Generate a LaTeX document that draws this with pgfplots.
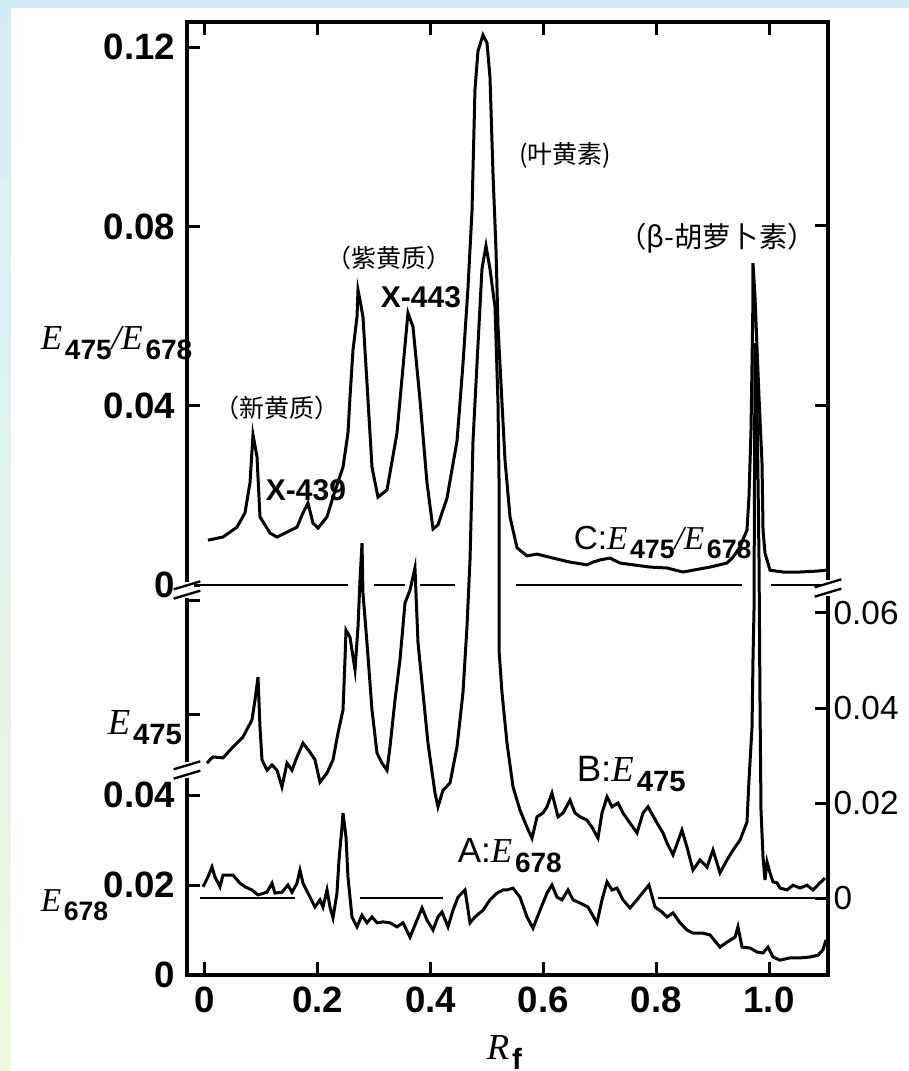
\documentclass[border=0pt]{standalone}
\usepackage{fontspec}
\setmainfont{Liberation Sans}
\newfontfamily\serif{Liberation Serif}
\newfontfamily\cjk{Noto Sans CJK SC}
\usepackage{pgfplots}
\pgfplotsset{compat=1.18}
\definecolor{bgblue}{HTML}{D3EDF8}
\definecolor{bgyellow}{HTML}{EEF8DD}
\makeatletter
% italic serif E with a bold sans subscript
\newcommand\Ee[2]{{\serif\itshape #1}\kern0.08em\raisebox{-0.5ex}{\fontsize{\fpeval{0.8*\f@size}}{1}\selectfont\bfseries #2}}
\makeatother
\newcommand\brk[2]{\begin{scope}[shift={(#1,#2)}]
  \fill[white] (-2pt,-2.4pt) rectangle (2pt,2.4pt);
  \draw[line width=0.7pt] (-4pt,-2.6pt)--(4pt,-0.2pt) (-4pt,0.2pt)--(4pt,2.6pt);
\end{scope}}

\begin{document}
\begin{tikzpicture}
\clip (-56.1pt,-28.8pt) rectangle (216.6pt,292.5pt);
\fill[white] (-56.1pt,-28.8pt) rectangle (216.6pt,292.5pt);
\fill[bgblue] (-56.1pt,290.1pt) rectangle (216.6pt,292.5pt);
\shade[top color=bgblue,bottom color=bgyellow] (-56.1pt,-28.8pt) rectangle (-52.8pt,292.5pt);

\pgfplotsset{base/.style={scale only axis,width=192.3pt,height=285.9pt,
  at={(0,0)},anchor=south west,xmin=-0.0319,xmax=1.1046,
  tick style={black,line width=0.9pt},major tick length=4pt,
  tick align=inside}}

% C: E475/E678
\begin{axis}[base,ymin=-0.0870,ymax=0.1256,
  axis line style={line width=1.1pt},
  xtick={0,0.2,0.4,0.6,0.8,1.0},xticklabels={0,0.2,0.4,0.6,0.8,1.0},xtick pos=both,
  ytick={0,0.04,0.08,0.12},yticklabels={0,0.04,0.08,0.12},ytick pos=left,
  ticklabel style={font=\bfseries\fontsize{11}{11}\selectfont}]
\addplot[black,line width=0.9pt] coordinates {
(0.0053,0.0100)(0.0319,0.0107)(0.0567,0.0129)(0.0709,0.0161)(0.0798,0.0228)
(0.0851,0.0335)(0.0922,0.0286)(0.0975,0.0152)(0.1152,0.0116)(0.1277,0.0107)
(0.1454,0.0118)(0.1631,0.0129)(0.1738,0.0161)(0.1826,0.0183)(0.1915,0.0138)
(0.2004,0.0127)(0.2163,0.0152)(0.2270,0.0196)(0.2447,0.0263)(0.2535,0.0339)
(0.2571,0.0419)(0.2624,0.0524)(0.2695,0.0598)(0.2713,0.0658)(0.2748,0.0636)
(0.2801,0.0598)(0.2872,0.0451)(0.2961,0.0263)(0.3067,0.0196)(0.3227,0.0212)
(0.3404,0.0339)(0.3511,0.0486)(0.3599,0.0607)(0.3688,0.0576)(0.3812,0.0413)
(0.3936,0.0228)(0.4043,0.0125)(0.4131,0.0134)(0.4291,0.0194)(0.4468,0.0321)
(0.4574,0.0493)(0.4663,0.0663)(0.4734,0.0834)(0.4787,0.1106)(0.4840,0.1191)
(0.4929,0.1227)(0.5000,0.1209)(0.5053,0.1133)(0.5106,0.0919)(0.5160,0.0747)
(0.5195,0.0578)(0.5266,0.0406)(0.5319,0.0279)(0.5408,0.0152)(0.5532,0.0083)
(0.5709,0.0065)(0.5887,0.0069)(0.6170,0.0060)(0.6472,0.0051)(0.6773,0.0045)
(0.6879,0.0051)(0.7004,0.0056)(0.7181,0.0060)(0.7358,0.0049)(0.7589,0.0045)
(0.7890,0.0040)(0.8191,0.0038)(0.8475,0.0029)(0.8652,0.0033)(0.8954,0.0040)
(0.9255,0.0049)(0.9362,0.0062)(0.9486,0.0085)(0.9610,0.0123)(0.9645,0.0196)
(0.9681,0.0346)(0.9699,0.0495)(0.9716,0.0642)(0.9716,0.0718)(0.9752,0.0642)
(0.9787,0.0531)(0.9823,0.0419)(0.9876,0.0272)(0.9894,0.0123)(0.9929,0.0071)
(1.0018,0.0033)(1.0248,0.0029)(1.0550,0.0029)(1.0851,0.0031)(1.1011,0.0033)};
\addplot[black,line width=0.8pt] coordinates {(-0.0301,0)(0.2535,0)};
\addplot[black,line width=0.8pt] coordinates {(0.2996,0)(0.3546,0)};
\addplot[black,line width=0.8pt] coordinates {(0.3812,0)(0.4433,0)};
\addplot[black,line width=0.8pt] coordinates {(0.5514,0)(0.9521,0)};
\addplot[black,line width=0.8pt] coordinates {(1.0035,0)(1.0957,0)};
\end{axis}

% B: E475
\begin{axis}[base,ymin=-0.0162,ymax=0.1844,axis line style={draw=none},
  xtick=\empty,ytick={0,0.02,0.04,0.06,0.1036,0.1415},
  yticklabels={0,0.02,0.04,0.06,{},{}},ytick pos=right,
  yticklabel style={font=\fontsize{10}{10}\selectfont,inner sep=1.5pt}]
\addplot[black,line width=0.9pt] coordinates {
(0.0035,0.0284)(0.0089,0.0291)(0.0142,0.0297)(0.0319,0.0295)(0.0496,0.0318)
(0.0674,0.0339)(0.0833,0.0375)(0.0887,0.0417)(0.0940,0.0465)(0.0975,0.0360)
(0.1011,0.0291)(0.1099,0.0269)(0.1188,0.0280)(0.1277,0.0269)(0.1365,0.0234)
(0.1454,0.0284)(0.1543,0.0269)(0.1631,0.0297)(0.1738,0.0326)(0.1862,0.0307)
(0.1950,0.0291)(0.2039,0.0244)(0.2163,0.0263)(0.2270,0.0291)(0.2358,0.0347)
(0.2447,0.0396)(0.2482,0.0501)(0.2500,0.0564)(0.2571,0.0549)(0.2660,0.0480)
(0.2713,0.0571)(0.2748,0.0669)(0.2784,0.0747)(0.2801,0.0642)(0.2872,0.0537)
(0.2961,0.0396)(0.3050,0.0305)(0.3138,0.0284)(0.3227,0.0269)(0.3280,0.0318)
(0.3369,0.0417)(0.3457,0.0501)(0.3546,0.0621)(0.3635,0.0648)(0.3723,0.0695)
(0.3777,0.0537)(0.3865,0.0432)(0.3954,0.0326)(0.4078,0.0221)(0.4131,0.0192)
(0.4220,0.0227)(0.4344,0.0242)(0.4468,0.0318)(0.4574,0.0432)(0.4645,0.0571)
(0.4699,0.0712)(0.4752,0.0962)(0.4840,0.1164)(0.4911,0.1324)(0.4982,0.1373)
(0.5053,0.1324)(0.5142,0.1244)(0.5195,0.1042)(0.5213,0.0882)(0.5213,0.0712)
(0.5213,0.0522)(0.5266,0.0432)(0.5355,0.0326)(0.5461,0.0234)(0.5585,0.0185)
(0.5709,0.0149)(0.5798,0.0126)(0.5887,0.0171)(0.5993,0.0179)(0.6064,0.0192)
(0.6152,0.0221)(0.6259,0.0171)(0.6348,0.0179)(0.6472,0.0206)(0.6560,0.0179)
(0.6649,0.0171)(0.6773,0.0164)(0.6862,0.0149)(0.6968,0.0126)(0.7039,0.0179)
(0.7128,0.0213)(0.7216,0.0192)(0.7323,0.0200)(0.7411,0.0179)(0.7535,0.0158)
(0.7660,0.0137)(0.7766,0.0179)(0.7855,0.0192)(0.8014,0.0158)(0.8121,0.0137)
(0.8191,0.0116)(0.8298,0.0091)(0.8457,0.0143)(0.8546,0.0107)(0.8652,0.0059)
(0.8777,0.0080)(0.8901,0.0065)(0.9007,0.0101)(0.9131,0.0053)(0.9255,0.0080)
(0.9362,0.0101)(0.9486,0.0122)(0.9610,0.0160)(0.9645,0.0248)(0.9699,0.0360)
(0.9716,0.0501)(0.9734,0.0606)(0.9752,0.1168)(0.9787,0.1048)(0.9823,0.0712)
(0.9840,0.0417)(0.9858,0.0185)(0.9894,0.0086)(0.9929,0.0038)(0.9965,0.0076)
(1.0018,0.0053)(1.0071,0.0034)(1.0142,0.0032)(1.0195,0.0021)(1.0319,0.0017)
(1.0426,0.0027)(1.0550,0.0021)(1.0674,0.0027)(1.0780,0.0017)(1.0904,0.0032)
(1.0993,0.0042)};
\addplot[black,line width=0.8pt] coordinates {(-0.0089,0)(0.1596,0)};
\addplot[black,line width=0.8pt] coordinates {(0.2748,0)(0.4220,0)};
\addplot[black,line width=0.8pt] coordinates {(0.8032,0)(1.0993,0)};
\end{axis}

% A: E678
\begin{axis}[base,ymin=0,ymax=0.2118,axis line style={draw=none},
  xtick=\empty,ytick={0,0.02,0.04,0.0578,0.0833},
  yticklabels={0,0.02,0.04,{},{}},ytick pos=left,
  yticklabel style={font=\bfseries\fontsize{11}{11}\selectfont}]
\addplot[black,line width=0.9pt] coordinates {
(-0.0035,0.0196)(0.0053,0.0218)(0.0124,0.0240)(0.0177,0.0218)(0.0266,0.0196)
(0.0319,0.0222)(0.0496,0.0222)(0.0621,0.0204)(0.0709,0.0196)(0.0833,0.0189)
(0.0940,0.0178)(0.1099,0.0184)(0.1188,0.0204)(0.1241,0.0182)(0.1365,0.0184)
(0.1472,0.0200)(0.1543,0.0184)(0.1631,0.0204)(0.1684,0.0233)(0.1738,0.0204)
(0.1862,0.0173)(0.1950,0.0151)(0.2039,0.0167)(0.2092,0.0151)(0.2163,0.0189)
(0.2216,0.0151)(0.2270,0.0127)(0.2340,0.0182)(0.2376,0.0256)(0.2429,0.0329)
(0.2447,0.0360)(0.2500,0.0307)(0.2535,0.0218)(0.2606,0.0129)(0.2695,0.0107)
(0.2784,0.0133)(0.2872,0.0116)(0.2961,0.0129)(0.3050,0.0116)(0.3156,0.0118)
(0.3280,0.0116)(0.3404,0.0107)(0.3511,0.0116)(0.3635,0.0084)(0.3759,0.0122)
(0.3848,0.0149)(0.3936,0.0122)(0.4043,0.0100)(0.4131,0.0129)(0.4202,0.0140)
(0.4309,0.0107)(0.4397,0.0144)(0.4486,0.0173)(0.4610,0.0189)(0.4699,0.0116)
(0.4787,0.0129)(0.4929,0.0144)(0.5053,0.0167)(0.5177,0.0182)(0.5284,0.0189)
(0.5355,0.0189)(0.5461,0.0193)(0.5585,0.0173)(0.5709,0.0129)(0.5816,0.0104)
(0.5940,0.0144)(0.6064,0.0182)(0.6152,0.0200)(0.6241,0.0173)(0.6330,0.0167)
(0.6436,0.0189)(0.6525,0.0167)(0.6649,0.0160)(0.6791,0.0151)(0.6950,0.0116)
(0.7039,0.0167)(0.7128,0.0207)(0.7216,0.0189)(0.7305,0.0193)(0.7411,0.0167)
(0.7535,0.0149)(0.7660,0.0167)(0.7766,0.0184)(0.7872,0.0200)(0.7979,0.0151)
(0.8103,0.0140)(0.8191,0.0129)(0.8298,0.0138)(0.8422,0.0116)(0.8546,0.0100)
(0.8652,0.0093)(0.8830,0.0093)(0.8954,0.0089)(0.9131,0.0062)(0.9255,0.0073)
(0.9397,0.0084)(0.9450,0.0107)(0.9521,0.0062)(0.9663,0.0060)(0.9787,0.0051)
(0.9894,0.0049)(0.9982,0.0062)(1.0071,0.0040)(1.0195,0.0033)(1.0372,0.0038)
(1.0550,0.0038)(1.0727,0.0040)(1.0869,0.0044)(1.0957,0.0056)(1.1011,0.0078)};
\end{axis}

% axis breaks
\brk{0pt}{115.5pt}
\brk{0pt}{61.5pt}
\brk{192.3pt}{116.1pt}

% axis titles
\node[anchor=base west,font=\fontsize{10.5}{10.5}\selectfont] at (-47.4pt,187.5pt)
  {\Ee{E}{475}{\serif\itshape /}\Ee{E}{678}};
\node[anchor=base west,font=\fontsize{11}{11}\selectfont] at (-27.3pt,72pt) {\Ee{E}{475}};
\node[anchor=base west,font=\fontsize{10}{10}\selectfont] at (-47.4pt,19pt) {\Ee{E}{678}};
\node[anchor=base west,font=\fontsize{11}{11}\selectfont] at (86.4pt,-25.5pt) {\Ee{R}{f}};

% peak names
\node[font={\cjk\fontsize{7.5}{7.5}\selectfont}] at (27pt,170.1pt) {（新黄质）};
\node[font=\bfseries\fontsize{9}{9}\selectfont] at (35.7pt,145.5pt) {X-439};
\node[font={\cjk\fontsize{7.5}{7.5}\selectfont}] at (60.6pt,215.1pt) {（紫黄质）};
\node[font=\bfseries\fontsize{9}{9}\selectfont] at (70.2pt,203.4pt) {X-443};
\node[font={\cjk\fontsize{7.5}{7.5}\selectfont}] at (113.4pt,246pt) {(叶黄素)};
\node[font={\cjk\fontsize{8.5}{8.5}\selectfont}] at (159pt,221pt) {（β-胡萝卜素）};

% trace names
\node[anchor=base west,font=\fontsize{10}{10}\selectfont] at (112.5pt,127.5pt)
  {C:\Ee{E}{475}{\serif\itshape /}\Ee{E}{678}};
\node[anchor=base west,font=\fontsize{11}{11}\selectfont] at (113.4pt,57.9pt) {B:\Ee{E}{475}};
\node[anchor=base west,font=\fontsize{10.5}{10.5}\selectfont] at (77.7pt,33.6pt) {A:\Ee{E}{678}};
\end{tikzpicture}
\end{document}
